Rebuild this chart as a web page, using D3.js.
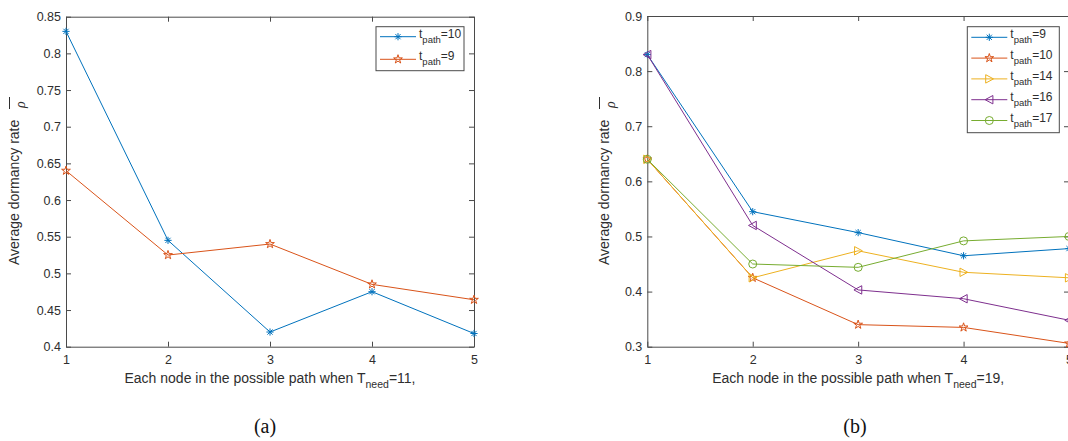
<!DOCTYPE html>
<html><head><meta charset="utf-8">
<script src="https://cdn.jsdelivr.net/npm/d3@7"></script>
<style>body{margin:0;background:#fff} svg{display:block}</style>
</head><body>
<svg id="c" width="1068" height="441"></svg>
<script>
// ---------- data ----------
const nodes = [1, 2, 3, 4, 5];
const xTickLabels = ["1", "2", "3", "4", "5"];

// panel (a): T_need = 11
const a_tpath10 = [0.83, 0.545, 0.42, 0.475, 0.418];
const a_tpath9  = [0.64, 0.525, 0.54, 0.485, 0.464];
const yTicksA = [0.4, 0.45, 0.5, 0.55, 0.6, 0.65, 0.7, 0.75, 0.8, 0.85];
const yTickLabelsA = ["0.4", "0.45", "0.5", "0.55", "0.6", "0.65", "0.7", "0.75", "0.8", "0.85"];

// panel (b): T_need = 19
const b_tpath9  = [0.83, 0.545, 0.507, 0.465, 0.478];
const b_tpath10 = [0.64, 0.425, 0.34, 0.335, 0.306];
const b_tpath14 = [0.64, 0.425, 0.474, 0.435, 0.425];
const b_tpath16 = [0.83, 0.52, 0.403, 0.387, 0.348];
const b_tpath17 = [0.64, 0.45, 0.444, 0.492, 0.5];
const yTicksB = [0.3, 0.4, 0.5, 0.6, 0.7, 0.8, 0.9];
const yTickLabelsB = ["0.3", "0.4", "0.5", "0.6", "0.7", "0.8", "0.9"];

// ---------- styles ----------
const C = { blue: "#0072BD", orange: "#D95319", yellow: "#EDB120", purple: "#7E2F8E", green: "#77AC30" };
const AXIS = "#4a4a4a";
const TEXT = "#2e2e2e";
const FONT = "'Liberation Sans', Arial, sans-serif";

// ---------- markers ----------
function markerPath(type) {
  const p = d3.path();
  if (type === "asterisk") {
    const r = 3.6, d = r * 0.72;
    p.moveTo(-r, 0); p.lineTo(r, 0);
    p.moveTo(0, -r); p.lineTo(0, r);
    p.moveTo(-d, -d); p.lineTo(d, d);
    p.moveTo(-d, d); p.lineTo(d, -d);
  } else if (type === "pentagram") {
    const R = 4.6, ri = R * 0.382;
    for (let i = 0; i < 10; i++) {
      const rr = i % 2 === 0 ? R : ri;
      const a = -Math.PI / 2 + i * Math.PI / 5;
      const x = rr * Math.cos(a), y = rr * Math.sin(a);
      if (i === 0) p.moveTo(x, y); else p.lineTo(x, y);
    }
    p.closePath();
  } else if (type === "right") {
    p.moveTo(4.2, 0); p.lineTo(-3.6, -4.2); p.lineTo(-3.6, 4.2); p.closePath();
  } else if (type === "left") {
    p.moveTo(-4.2, 0); p.lineTo(3.6, -4.2); p.lineTo(3.6, 4.2); p.closePath();
  } else if (type === "circle") {
    p.arc(0, 0, 4, 0, 2 * Math.PI);
  }
  return p.toString();
}

const svg = d3.select("#c");

function drawPanel(cfg) {
  const x = d3.scaleLinear().domain([1, 5]).range([cfg.left, cfg.right]);
  const y = d3.scaleLinear().domain(cfg.yDomain).range([cfg.bottom, cfg.top]);
  const g = svg.append("g");

  const styleAxis = sel => {
    sel.selectAll("path.domain").attr("stroke", AXIS).attr("stroke-width", 1);
    sel.selectAll(".tick line").attr("stroke", AXIS).attr("stroke-width", 1);
    sel.selectAll("text").attr("fill", TEXT).style("font-family", FONT).style("font-size", "12.5px");
  };

  // bottom
  g.append("g").attr("transform", `translate(0,${cfg.bottom})`)
    .call(d3.axisBottom(x).tickValues(nodes).tickFormat((d, i) => xTickLabels[i]).tickSizeInner(-5).tickSizeOuter(0).tickPadding(8))
    .call(styleAxis);
  // top
  g.append("g").attr("transform", `translate(0,${cfg.top})`)
    .call(d3.axisTop(x).tickValues(nodes).tickFormat("").tickSizeInner(-5).tickSizeOuter(0))
    .call(styleAxis);
  // left
  g.append("g").attr("transform", `translate(${cfg.left},0)`)
    .call(d3.axisLeft(y).tickValues(cfg.yTicks).tickFormat((d, i) => cfg.yTickLabels[i]).tickSizeInner(-5).tickSizeOuter(0).tickPadding(5))
    .call(styleAxis);
  // right
  g.append("g").attr("transform", `translate(${cfg.right},0)`)
    .call(d3.axisRight(y).tickValues(cfg.yTicks).tickFormat("").tickSizeInner(-5).tickSizeOuter(0))
    .call(styleAxis);
  g.selectAll(".domain").attr("fill", "none");

  // series
  const line = d3.line().x((d, i) => x(nodes[i])).y(d => y(d));
  cfg.series.forEach(s => {
    g.append("path").attr("d", line(s.values)).attr("fill", "none")
      .attr("stroke", s.color).attr("stroke-width", 1);
    g.selectAll(null).data(s.values).enter().append("path")
      .attr("transform", (d, i) => `translate(${x(nodes[i])},${y(d)})`)
      .attr("d", markerPath(s.marker)).attr("fill", "none")
      .attr("stroke", s.color).attr("stroke-width", 1);
  });

  // legend
  const L = cfg.legend;
  g.append("rect").attr("x", L.x).attr("y", L.y).attr("width", L.w).attr("height", L.h)
    .attr("fill", "#fff").attr("stroke", AXIS).attr("stroke-width", 1);
  cfg.series.forEach((s, i) => {
    const yy = L.y + L.first + i * L.step;
    g.append("line").attr("x1", L.x + 4).attr("x2", L.x + 40).attr("y1", yy).attr("y2", yy)
      .attr("stroke", s.color).attr("stroke-width", 1);
    g.append("path").attr("transform", `translate(${L.x + 22},${yy})`)
      .attr("d", markerPath(s.marker)).attr("fill", "none").attr("stroke", s.color).attr("stroke-width", 1);
    const t = g.append("text").attr("x", L.x + 43).attr("y", yy + 1)
      .style("font-family", FONT).style("font-size", "12px").attr("fill", TEXT);
    t.append("tspan").text("t");
    t.append("tspan").attr("dy", 5).style("font-size", "9.5px").text("path");
    t.append("tspan").attr("dy", -5).text("=" + s.name);
  });

  // x label
  const xl = g.append("text").attr("x", (cfg.left + cfg.right) / 2).attr("y", 383)
    .attr("text-anchor", "middle").style("font-family", FONT).style("font-size", "14px").attr("fill", TEXT);
  xl.append("tspan").text("Each node in the possible path when T");
  xl.append("tspan").attr("dy", 5).style("font-size", "10.5px").text("need");
  xl.append("tspan").attr("dy", -5).text("=" + cfg.tneed + ",");

  // y label (rotated)
  const yl = g.append("g").attr("transform", `translate(${cfg.ylabX},265) rotate(-90)`);
  yl.append("text").attr("x", 0).attr("y", 0)
    .style("font-family", FONT).style("font-size", "14px").attr("fill", TEXT)
    .text("Average dormancy rate");
  yl.append("text").attr("x", 157).attr("y", 6)
    .style("font-family", "'Liberation Serif', serif").style("font-style", "italic")
    .style("font-size", "14px").attr("fill", TEXT).text("ρ");
  yl.append("line").attr("x1", 156).attr("x2", 168).attr("y1", -9).attr("y2", -9)
    .attr("stroke", TEXT).attr("stroke-width", 1);

  // caption
  svg.append("text").attr("x", cfg.capX).attr("y", 433).attr("text-anchor", "middle")
    .style("font-family", "'Liberation Serif', 'Times New Roman', serif").style("font-size", "20px")
    .attr("fill", "#111").text(cfg.caption);
}

drawPanel({
  left: 66, right: 474, top: 16.7, bottom: 346.7,
  yDomain: [0.4, 0.85], yTicks: yTicksA, yTickLabels: yTickLabelsA,
  series: [
    { name: "10", values: a_tpath10, color: C.blue, marker: "asterisk" },
    { name: "9", values: a_tpath9, color: C.orange, marker: "pentagram" }
  ],
  legend: { x: 376, y: 26.7, w: 88, h: 44, first: 10, step: 22.6 },
  tneed: 11, ylabX: 18.5, capX: 265, caption: "(a)"
});

drawPanel({
  left: 647.3, right: 1069, top: 16, bottom: 346.7,
  yDomain: [0.3, 0.9], yTicks: yTicksB, yTickLabels: yTickLabelsB,
  series: [
    { name: "9", values: b_tpath9, color: C.blue, marker: "asterisk" },
    { name: "10", values: b_tpath10, color: C.orange, marker: "pentagram" },
    { name: "14", values: b_tpath14, color: C.yellow, marker: "right" },
    { name: "16", values: b_tpath16, color: C.purple, marker: "left" },
    { name: "17", values: b_tpath17, color: C.green, marker: "circle" }
  ],
  legend: { x: 967.3, y: 26.7, w: 92, h: 106, first: 10.6, step: 20.8 },
  tneed: 19, ylabX: 608.5, capX: 855, caption: "(b)"
});
</script>
</body></html>
